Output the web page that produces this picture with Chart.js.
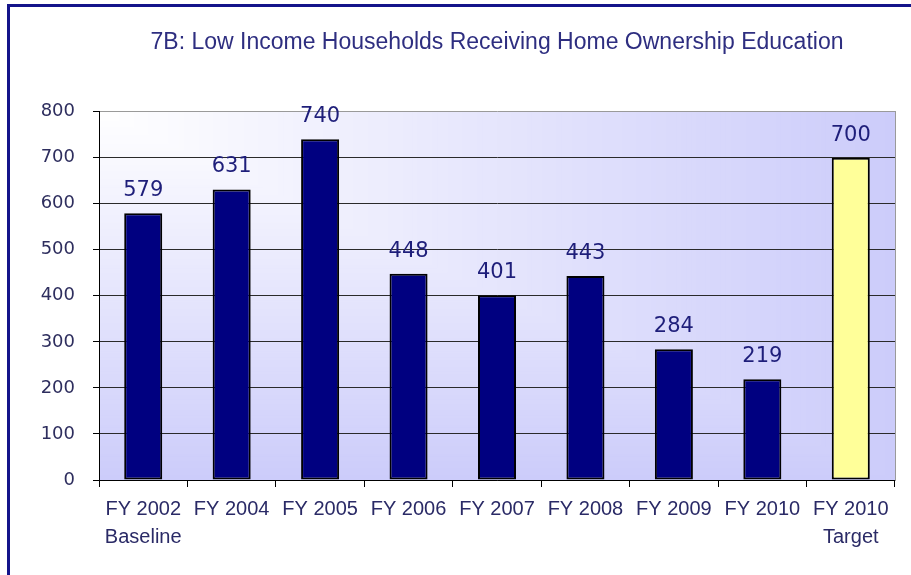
<!DOCTYPE html>
<html>
<head>
<meta charset="utf-8">
<title>7B: Low Income Households Receiving Home Ownership Education</title>
<script src="https://cdn.jsdelivr.net/npm/chart.js@4"></script>
<style>
  html, body { margin: 0; padding: 0; background: #ffffff; }
  #wrap { position: relative; width: 911px; height: 575px; overflow: hidden; }
  #frame {
    position: absolute; left: 7px; top: 4px; width: 1200px; height: 1200px;
    border-left: 3px solid #14148a; border-top: 3px solid #14148a;
    pointer-events: none;
  }
  canvas { position: absolute; left: 0; top: 0; }
</style>
</head>
<body>
<div id="wrap">
  <canvas id="chart" width="911" height="575"></canvas>
  <div id="frame"></div>
</div>
<script>
// Fiscal-year categories (multi-line labels are arrays)
const categories = [
  ['FY 2002', 'Baseline'], 'FY 2004', 'FY 2005', 'FY 2006', 'FY 2007',
  'FY 2008', 'FY 2009', 'FY 2010', ['FY 2010', 'Target']
];
// Households receiving home ownership education
const households = [579, 631, 740, 448, 401, 443, 284, 219, 700];
// Value axis
const axisMin = 0;
const axisMax = 800;
const axisStep = 100;

const chartTitle = '7B: Low Income Households Receiving Home Ownership Education';

// The last category is the target; it gets the pale yellow fill
const isTarget = (i) => i === categories.length - 1;

// Plot area fill: white in the top-left corner fading to lavender toward the far edges
const cornerFill = {
  id: 'cornerFill',
  beforeDraw(chart) {
    const { ctx, chartArea: a } = chart;
    const w = a.right - a.left, h = a.bottom - a.top;
    const from = [255, 255, 255], to = [204, 204, 250];
    const steps = 160;
    ctx.save();
    for (let i = 0; i <= steps; i++) {
      const t = 1 - i / steps;
      const c = from.map((v, k) => Math.round(v + (to[k] - v) * t));
      ctx.fillStyle = `rgb(${c[0]},${c[1]},${c[2]})`;
      ctx.fillRect(a.left, a.top, Math.max(w * t, 0.5), Math.max(h * t, 0.5));
    }
    ctx.restore();
  }
};

// Value labels above each bar
const valueLabels = {
  id: 'valueLabels',
  afterDatasetsDraw(chart) {
    const { ctx } = chart;
    const meta = chart.getDatasetMeta(0);
    ctx.save();
    ctx.font = '21px "DejaVu Sans", Verdana, sans-serif';
    ctx.fillStyle = '#1e1e7a';
    ctx.textAlign = 'center';
    ctx.textBaseline = 'alphabetic';
    meta.data.forEach((bar, i) => {
      ctx.fillText(String(chart.data.datasets[0].data[i]), bar.x, bar.y - 17);
    });
    ctx.restore();
  }
};

new Chart(document.getElementById('chart'), {
  type: 'bar',
  data: {
    labels: categories,
    datasets: [{
      data: households,
      backgroundColor: (c) => isTarget(c.dataIndex) ? '#ffff99' : '#000080',
      borderColor: '#000000',
      borderWidth: 2,
      borderSkipped: false,
      inflateAmount: 0,
      categoryPercentage: 1.0,
      barPercentage: 0.43
    }]
  },
  options: {
    responsive: false,
    animation: false,
    events: [],
    layout: { padding: { left: 0, right: 16, top: 0, bottom: 0 } },
    plugins: {
      legend: { display: false },
      tooltip: { enabled: false },
      title: {
        display: true,
        text: chartTitle,
        fullSize: false,
        color: '#2e2e80',
        font: { family: '"Liberation Sans", Arial, sans-serif', size: 23, weight: 'normal' },
        padding: { top: 29, bottom: 55 }
      }
    },
    scales: {
      x: {
        offset: true,
        grid: {
          display: true,
          drawOnChartArea: false,
          drawTicks: true,
          tickLength: 7,
          tickColor: '#000000'
        },
        border: { display: true, color: '#000000', width: 1 },
        ticks: {
          autoSkip: false,
          maxRotation: 0,
          minRotation: 0,
          padding: 8,
          color: '#2a2a66',
          font: { family: '"Liberation Sans", Arial, sans-serif', size: 20, lineHeight: 1.4 }
        },
        afterFit(scale) { scale.height = 95; }
      },
      y: {
        min: axisMin,
        max: axisMax,
        ticks: {
          stepSize: axisStep,
          padding: 18,
          color: '#2e2e5e',
          font: { family: '"DejaVu Sans", Verdana, sans-serif', size: 18 }
        },
        grid: {
          color: (c) => c.tick && c.tick.value === axisMax ? '#9a9a9a' : '#2a2a2a',
          lineWidth: 1,
          tickLength: 6,
          tickColor: '#000000'
        },
        border: { display: true, color: '#000000', width: 1 },
        afterFit(scale) { scale.width = 99; }
      },
      yRight: {
        position: 'right',
        min: axisMin,
        max: axisMax,
        ticks: { display: false },
        grid: { drawOnChartArea: false, drawTicks: false },
        border: { display: true, color: '#9a9a9a', width: 1 },
        afterFit(scale) { scale.width = 0; }
      }
    }
  },
  plugins: [cornerFill, valueLabels]
});
</script>
</body>
</html>
